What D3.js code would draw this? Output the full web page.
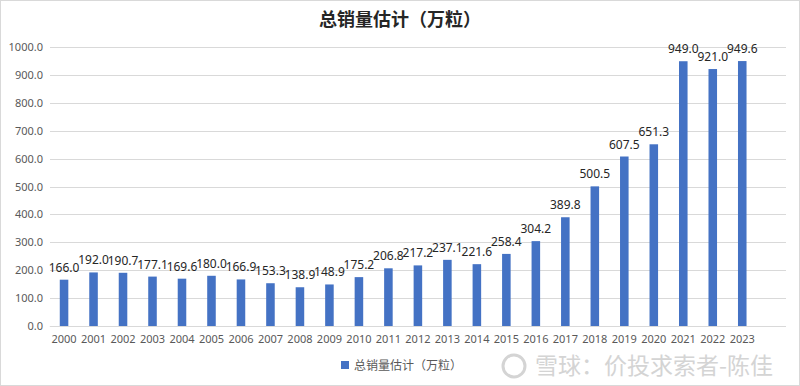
<!DOCTYPE html>
<html lang="zh">
<head>
<meta charset="UTF-8">
<title>总销量估计</title>
<script src="https://d3js.org/d3.v7.min.js"></script>
<style>
  body { margin: 0; background: #fff; }
  svg { display: block; font-family: "Noto Sans CJK SC", "Noto Sans", sans-serif; }
</style>
</head>
<body>
<svg id="chart" width="800" height="386"></svg>
<script>
  // data
  const years = ["2000","2001","2002","2003","2004","2005","2006","2007","2008","2009","2010","2011",
                 "2012","2013","2014","2015","2016","2017","2018","2019","2020","2021","2022","2023"];
  const sales = [166.0,192.0,190.7,177.1,169.6,180.0,166.9,153.3,138.9,148.9,175.2,206.8,
                 217.2,237.1,221.6,258.4,304.2,389.8,500.5,607.5,651.3,949.0,921.0,949.6];
  const yTicks = [0,100,200,300,400,500,600,700,800,900,1000];

  const W = 800, H = 386;
  const plot = { left: 50, right: 786, top: 47, bottom: 326 };
  const barColor = "#4472C4";

  const svg = d3.select("#chart");

  // outer border
  svg.append("rect")
    .attr("x", 0.5).attr("y", 0.5)
    .attr("width", W - 1).attr("height", H - 1)
    .attr("fill", "#fff").attr("stroke", "#d9d9d9");

  // title
  svg.append("text")
    .attr("x", 400).attr("y", 26)
    .attr("text-anchor", "middle")
    .attr("font-size", 18).attr("font-weight", "bold")
    .attr("fill", "#262626")
    .text("总销量估计（万粒）");

  const x = d3.scaleBand().domain(years).range([49.3, 757]).paddingInner(0.71).paddingOuter(0.355);
  const y = d3.scaleLinear().domain([0, 1000]).range([plot.bottom, plot.top]);

  // gridlines
  svg.append("g").selectAll("line").data(yTicks).join("line")
    .attr("x1", plot.left).attr("x2", plot.right)
    .attr("y1", d => Math.round(y(d)) + 0.5).attr("y2", d => Math.round(y(d)) + 0.5)
    .attr("stroke", "#d9d9d9");

  // y axis labels
  const yAxis = svg.append("g")
    .attr("transform", `translate(${plot.left - 7},0)`)
    .call(d3.axisLeft(y).tickValues(yTicks).tickFormat(d3.format(".1f")).tickSize(0).tickPadding(0));
  yAxis.select(".domain").remove();
  yAxis.selectAll("text").attr("font-size", 11).attr("fill", "#595959")
    .attr("font-family", "'Noto Sans', sans-serif");

  // x axis labels
  const xAxis = svg.append("g")
    .attr("transform", `translate(0,${plot.bottom})`)
    .call(d3.axisBottom(x).tickSize(0).tickPadding(9));
  xAxis.select(".domain").attr("stroke", "#d9d9d9");
  xAxis.selectAll("text").attr("font-size", 11).attr("fill", "#595959")
    .attr("font-family", "'Noto Sans', sans-serif");

  // bars
  svg.append("g").selectAll("rect").data(sales).join("rect")
    .attr("x", (d, i) => x(years[i]))
    .attr("y", d => y(d))
    .attr("width", x.bandwidth())
    .attr("height", d => y(0) - y(d))
    .attr("fill", barColor);

  // value labels
  svg.append("g").selectAll("text").data(sales).join("text")
    .attr("x", (d, i) => x(years[i]) + x.bandwidth() / 2)
    .attr("y", d => y(d) - 8)
    .attr("text-anchor", "middle")
    .attr("font-size", 12)
    .attr("font-family", "'Noto Sans', sans-serif")
    .attr("fill", "#262626")
    .text(d => d.toFixed(1));

  // legend
  const lg = svg.append("g").attr("transform", "translate(341,366)");
  lg.append("rect").attr("x", 0).attr("y", -5).attr("width", 8).attr("height", 8).attr("fill", barColor);
  lg.append("text").attr("x", 13).attr("y", 4)
    .attr("font-size", 12).attr("fill", "#595959")
    .text("总销量估计（万粒）");

  // watermark
  const wm = svg.append("g").attr("transform", "translate(0,366)");
  wm.append("circle").attr("cx", 514).attr("cy", 0).attr("r", 11)
    .attr("fill", "none").attr("stroke", "#d4d4d4").attr("stroke-width", 3);
  wm.append("text").attr("x", 535).attr("y", 8)
    .attr("font-size", 23).attr("fill", "#d4d4d4")
    .text("雪球：价投求索者-陈佳");
</script>
</body>
</html>
